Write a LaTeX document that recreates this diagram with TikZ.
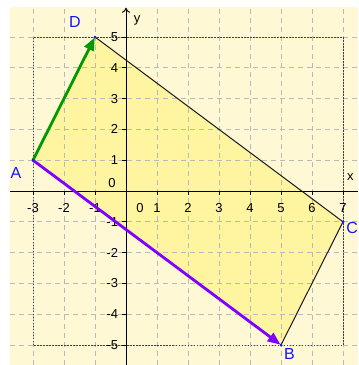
\documentclass[tikz,border=0pt]{standalone}
\usepackage{fontspec}
\setmainfont{Liberation Sans}
\usetikzlibrary{arrows.meta}
\definecolor{bgyel}{RGB}{255,248,212}
\definecolor{polyel}{RGB}{255,244,160}
\definecolor{gridgray}{RGB}{185,185,185}
\definecolor{vecpurple}{RGB}{127,0,255}
\definecolor{vecgreen}{RGB}{0,153,0}
\definecolor{ptblue}{RGB}{20,20,255}
\tikzset{
  gridline/.style={gridgray, line width=0.8pt, dash pattern=on 5pt off 4pt},
  boxline/.style={black!75, line width=0.7pt, dash pattern=on 1.5pt off 1.5pt},
  edgeline/.style={black!90, line width=1pt},
  axisline/.style={black, line width=1pt},
  vec/.style={line width=2.8pt, -{Triangle[length=13pt,width=10pt]}, shorten >=0.5pt},
  ticklab/.style={font=\fontsize{13}{15}\selectfont, inner sep=0pt},
  ptlab/.style={font=\fontsize{16}{18}\selectfont, text=ptblue, inner sep=0pt},
  ptdot/.style={circle, fill=ptblue, inner sep=0pt, minimum size=3pt},
}
\begin{document}
\begin{tikzpicture}[x=31pt, y=30.8pt]
\useasboundingbox (-4.0645,-5.649) rectangle (7.4839,6.2013);
% background
\fill[bgyel] (-3.742,-5.649) rectangle (7.4839,5.974);
% points
\coordinate (A) at (-3,1);
\coordinate (B) at (5,-5);
\coordinate (C) at (7,-1);
\coordinate (D) at (-1,5);
% polygon fill
\fill[polyel] (A) -- (B) -- (C) -- (D) -- cycle;
% grid
\foreach \i in {-3,...,7} \draw[gridline] (\i,-5.649) -- (\i,5.974);
\foreach \j in {-5,...,5} \draw[gridline] (-3.742,\j) -- (7.4839,\j);
% dotted box
\draw[boxline] (-3,-5) rectangle (7,5);
% axes
\coordinate (xl) at (-3.742,0);
\coordinate (xr) at (7.4839,0);
\coordinate (yb) at (0,-5.649);
\coordinate (yt) at (0,5.95);
\draw[axisline] (xl) -- (xr);
\draw[axisline, -{To[length=5pt,width=8pt]}] (yb) -- (yt);
\foreach \i in {-3,...,7} \draw[axisline, line width=0.8pt] (\i,0) -- (\i,-0.13);
\foreach \j in {-5,...,5} \draw[axisline, line width=0.8pt] (0,\j) -- (-0.13,\j);
% tick labels
\foreach \i in {-3,-2,-1,1,2,3,4,5,6,7} \node[ticklab] (tx\i) at (\i,-0.55) {\i};
\node[ticklab] (tx0) at (0.45,-0.55) {0};
\foreach \j in {-5,-4,-3,-2,-1,1,2,3,4,5} \node[ticklab, anchor=east] (ty\j) at (-0.25,\j) {\j};
\node[ticklab, anchor=east] (ty0) at (-0.33,0.27) {0};
\node[ticklab] (xlab) at (7.24,0.45) {x};
\node[ticklab] (ylab) at (0.36,5.55) {y};
% edges
\draw[edgeline] (B) -- (C) -- (D);
% vectors
\draw[vec, vecpurple] (A) -- (B);
\draw[vec, vecgreen] (A) -- (D);
% point dots
\node[ptdot] (dA) at (A) {};
\node[ptdot] (dB) at (B) {};
\node[ptdot] (dC) at (C) {};
\node[ptdot] (dD) at (D) {};
% point labels
\node[ptlab] (lA) at (-3.55,0.6) {A};
\node[ptlab] (lB) at (5.27,-5.3) {B};
\node[ptlab, anchor=west] (lC) at (7.1,-1.2) {C};
\node[ptlab] (lD) at (-1.65,5.48) {D};
\end{tikzpicture}
\end{document}
